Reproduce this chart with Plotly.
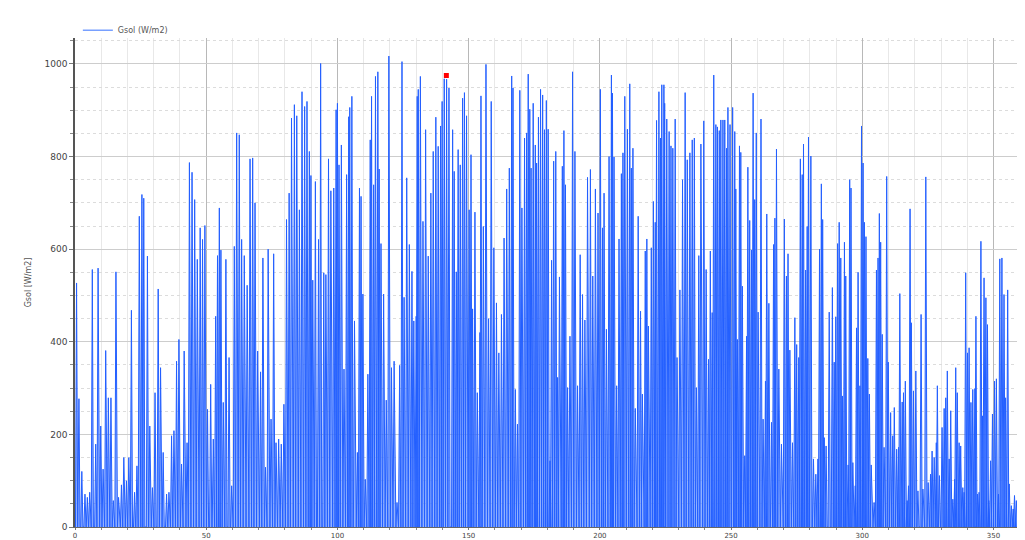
import plotly.graph_objects as go

# Daily irradiance spikes: (day of year, peak W/m2)
spike_day = [
    0.6, 1.5, 2.6, 3.8, 4.7, 5.6, 6.6, 7.9, 8.8, 9.8, 10.7, 11.7, 12.7, 13.7, 14.6, 15.6, 16.6, 17.7, 18.6, 19.6,
    20.5, 21.5, 22.7, 23.6, 24.5, 25.5, 26.2, 27.6, 28.5, 29.5, 30.5, 31.7, 32.6, 33.6,
    34.9, 35.8, 36.8, 37.7, 38.7, 39.6, 40.6, 41.6, 42.7, 43.6, 44.6, 45.6, 46.6, 47.7, 48.6, 49.5, 50.5, 51.7,
    52.7, 53.6, 54.3, 55.0, 55.6, 56.5, 57.5, 58.7, 59.7, 60.7, 61.6, 62.6, 63.5, 64.5, 65.6, 66.7, 67.7, 68.6, 69.6,
    70.7, 71.6, 72.6, 73.6, 74.7, 75.7, 76.6, 77.6, 78.6, 79.6, 80.6, 81.6, 82.5, 83.6, 84.5, 85.5, 86.5, 87.5,
    88.4, 89.3, 89.9, 90.6, 91.6, 92.8, 93.6, 94.8, 95.6, 96.6, 97.5, 98.6, 99.5, 100.0, 100.6, 101.5, 102.5,
    103.5, 104.3, 104.7, 105.5, 106.5,
    107.6, 108.4, 109.0, 109.7, 110.6, 111.6, 112.5, 113.0, 113.8, 114.5, 115.4, 115.9, 116.6, 117.6, 118.6,
    119.6, 120.6, 121.6, 122.7, 123.7, 124.6, 125.4, 126.4, 127.4, 128.4, 129.1, 130.0, 130.4, 130.8, 131.6,
    132.6, 133.6, 134.6, 135.6, 136.5, 137.5, 138.4, 139.3, 139.9, 140.7, 141.6, 142.5,
    143.9, 144.5, 145.3, 146.0, 146.8, 147.7, 148.4, 149.2, 150.2, 150.9, 151.5, 152.4, 153.3, 154.3, 154.7,
    155.6, 156.6, 157.6, 158.6, 159.6, 160.6, 161.5, 162.5, 163.5, 164.5, 165.5, 166.4, 166.9, 167.8, 168.6,
    169.5, 170.3, 171.3, 172.1, 172.7, 173.3, 173.8, 174.6, 175.4, 175.9, 176.6, 177.4, 178.2, 178.9,
    179.6, 180.3, 181.0, 181.6, 182.4, 183.2, 183.9, 184.6, 185.7, 186.3, 186.9, 187.7, 188.6, 189.6, 190.5,
    191.5, 192.5, 193.4, 194.3, 195.3, 196.4, 197.3, 198.3, 199.3, 200.2, 201.0, 201.6, 202.5, 203.5, 204.4,
    204.8, 205.4, 206.4, 207.3, 208.2, 208.8, 209.5, 210.5, 211.4, 212.0, 212.6, 213.5, 214.6,
    215.5, 216.2, 217.3, 217.9, 218.5, 219.6, 220.4, 221.1, 221.6, 222.5, 223.1, 223.6, 224.4, 224.7, 225.5,
    226.4, 227.1, 227.8, 228.7, 229.4, 230.5, 231.5, 232.5, 233.3, 234.3, 235.2, 236.0, 236.8, 237.7, 238.5,
    239.6, 240.5, 241.4, 242.1, 242.8, 243.4, 244.2, 244.8, 245.5, 246.1, 246.9, 247.6, 248.3, 248.8, 249.6, 250.6,
    251.4, 251.8, 252.4, 253.2, 253.7, 254.3, 255.2, 255.9, 256.4, 257.1, 257.8, 258.4, 259.0, 259.6, 260.3,
    261.4, 262.2, 263.1, 263.6, 264.4, 265.4, 266.2, 266.7, 267.3, 268.2, 269.2, 270.3, 271.1, 271.7, 272.4,
    273.4, 274.3, 275.0, 275.8, 276.4, 277.1, 277.6, 278.4, 279.0, 279.5, 280.4, 281.4, 282.3, 283.1, 283.7,
    284.4, 284.9, 285.5, 286.2, 287.4,
    288.6, 289.3, 289.9, 290.6, 291.2, 291.8, 292.4, 293.2, 293.7, 294.6, 295.2, 295.7, 296.4, 297.3, 297.8,
    298.4, 299.1, 299.7, 300.3, 300.8, 301.4, 302.1, 302.7, 303.4, 304.5, 305.4, 306.0, 306.5, 307.0, 307.6,
    308.3, 309.3, 309.9, 310.8, 311.6, 312.2, 313.1, 313.8, 314.3, 315.2, 315.7, 316.4, 317.1, 317.6, 318.2,
    318.7, 319.5, 320.4, 321.2, 322.4, 323.1,
    324.2, 325.1, 326.0, 326.6, 327.4, 328.2, 328.6, 329.4, 330.4, 331.2, 331.8, 332.4, 333.1, 333.7, 334.5,
    335.2, 335.6, 336.2, 336.9, 337.5, 338.3, 338.8, 339.4, 340.1, 340.7, 341.4, 342.1, 342.9, 343.3, 343.9,
    344.5, 345.2, 345.8, 346.4, 347.1, 347.7, 348.2, 348.9, 349.6, 350.4, 351.1, 351.9, 352.4, 353.2, 354.0,
    354.6, 355.4, 356.0, 356.8, 357.5, 358.0, 358.7, 359.3, 360.2, 361.0, 361.6,
]
gsol_peak = [
    527, 277, 120, 71, 64, 75, 556, 179, 559, 218, 125, 381, 279, 279, 57, 551, 64, 91, 150, 100,
    150, 468, 75, 132, 671, 718, 710, 585, 218, 85, 290, 514, 344, 161,
    71, 75, 197, 208, 358, 405, 136, 380, 182, 787, 766, 707, 578, 646, 621, 651, 254, 308,
    190, 455, 586, 689, 598, 269, 578, 366, 89, 606, 851, 847, 621, 586, 522, 795, 797, 700, 380,
    335, 581, 129, 600, 233, 590, 182, 190, 179, 265, 664, 721, 883, 912, 888, 685, 940, 908,
    919, 811, 759, 533, 746, 621, 1001, 549, 545, 795, 726, 732, 901, 915, 782, 825, 341,
    761, 886, 906, 930, 445,
    161, 732, 714, 503, 103, 330, 836, 930, 739, 973, 983, 773, 612, 503, 274,
    1017, 344, 358, 53, 349, 1005, 496, 754, 610, 552, 445, 455, 930, 945, 973,
    660, 858, 585, 721, 811, 885, 822, 866, 919, 968, 967, 948,
    858, 768, 551, 815, 782, 926, 938, 888, 685, 804, 471, 680, 290, 420, 931,
    649, 999, 450, 919, 603, 484, 376, 459, 624, 730, 775, 974, 948, 297, 222,
    943, 689, 840, 851, 978, 902, 775, 915, 825, 786, 885, 945, 933, 858,
    921, 859, 143, 576, 790, 811, 323, 540, 779, 856, 739, 301, 412, 983, 811,
    305, 588, 502, 447, 755, 772, 542, 730, 678, 945, 646, 721, 427, 800, 976,
    937, 799, 305, 622, 763, 808, 930, 859, 957, 775, 818, 256, 671,
    466, 287, 596, 622, 434, 603, 703, 658, 878, 940, 840, 955, 955, 915, 881,
    854, 823, 818, 881, 366, 512, 750, 938, 793, 808, 836, 840, 301, 586, 827,
    877, 556, 362, 596, 463, 976, 869, 864, 856, 879, 879, 879, 818, 906, 869, 906,
    854, 730, 405, 823, 809, 520, 154, 412, 777, 662, 598, 937, 707, 851, 464,
    881, 233, 315, 676, 483, 226, 610, 667, 816, 341, 179, 665, 542, 590, 382,
    182, 452, 394, 366, 795, 761, 827, 555, 649, 842, 801, 147, 114, 147, 600,
    741, 664, 193, 175, 464,
    517, 356, 454, 612, 658, 581, 283, 615, 542, 134, 750, 732, 139, 89, 430,
    550, 305, 866, 786, 658, 627, 364, 287, 134, 53, 555, 581, 677, 615, 416,
    172, 757, 356, 247, 197, 258, 168, 172, 504, 270, 290, 315, 57, 89, 687,
    441, 294, 337, 78, 459, 82,
    756, 96, 114, 164, 150, 182, 305, 111, 215, 256, 279, 337, 147, 251, 60,
    103, 344, 290, 182, 175, 85, 75, 549, 376, 387, 269, 297, 299, 455, 71,
    75, 617, 240, 538, 495, 437, 57, 143, 244, 315, 320, 71, 579, 581, 502,
    279, 512, 93, 46, 39, 68, 57, 42, 125, 129, 111,
]
# Highlighted point (red marker)
marker_day = [141.5]
marker_val = [975]

HALF = 0.42  # half width of one day's sunlit period, in days
xs, ys = [], []
for d, v in zip(spike_day, gsol_peak):
    xs += [d - HALF, d, d + HALF]
    ys += [0, v, 0]

fig = go.Figure()
fig.add_trace(go.Scatter(
    x=xs, y=ys, mode="lines", name="Gsol (W/m2)",
    line=dict(color="rgb(35,95,255)", width=1),
    fill="tozeroy", fillcolor="rgba(100,145,255,0.7)",
    showlegend=False,
))
# legend entry (thin light line, as in the reference)
fig.add_trace(go.Scatter(
    x=[None], y=[None], mode="lines", name="Gsol (W/m2)",
    line=dict(color="rgb(120,160,255)", width=1.5), showlegend=True,
))
fig.add_trace(go.Scatter(
    x=marker_day, y=marker_val, mode="markers", showlegend=False,
    marker=dict(symbol="square", color="red", size=5),
))

fig.update_layout(
    width=1017, height=532,
    margin=dict(l=67, r=0, t=30, b=13, autoexpand=False),
    paper_bgcolor="white", plot_bgcolor="white",
    font=dict(family="DejaVu Sans", size=8, color="#555"),
    legend=dict(x=0.003, xanchor="left", y=0.986, yanchor="bottom", orientation="h",
                font=dict(size=8, color="#555"), bgcolor="rgba(0,0,0,0)",
                itemwidth=30),
)
fig.update_xaxes(
    range=[0, 362], tick0=0, dtick=50, automargin=False,
    showgrid=True, gridcolor="#b8b8b8", gridwidth=1,
    ticks="outside", ticklen=2, tickcolor="#777",
    showline=True, linecolor="#666", linewidth=1,
    zeroline=False, tickfont=dict(size=7, color="#444"),
    minor=dict(dtick=10, showgrid=True, gridcolor="#e8e8e8", ticks="outside", ticklen=2, tickcolor="#888"),
)
fig.update_yaxes(
    range=[0, 1056], tick0=0, dtick=200, automargin=False,
    showgrid=True, gridcolor="#cdcdcd", gridwidth=1,
    ticks="outside", ticklen=4, tickcolor="#777",
    showline=True, linecolor="#555", linewidth=1.5,
    zeroline=False, tickfont=dict(size=9, color="#444"),
    title=dict(text="Gsol [W/m2]", font=dict(size=8, color="#555"), standoff=12),
    minor=dict(dtick=50, showgrid=True, gridcolor="#dcdcdc", griddash="dot", ticks="outside", ticklen=3, tickcolor="#888"),
)

fig.write_html("out.html")
